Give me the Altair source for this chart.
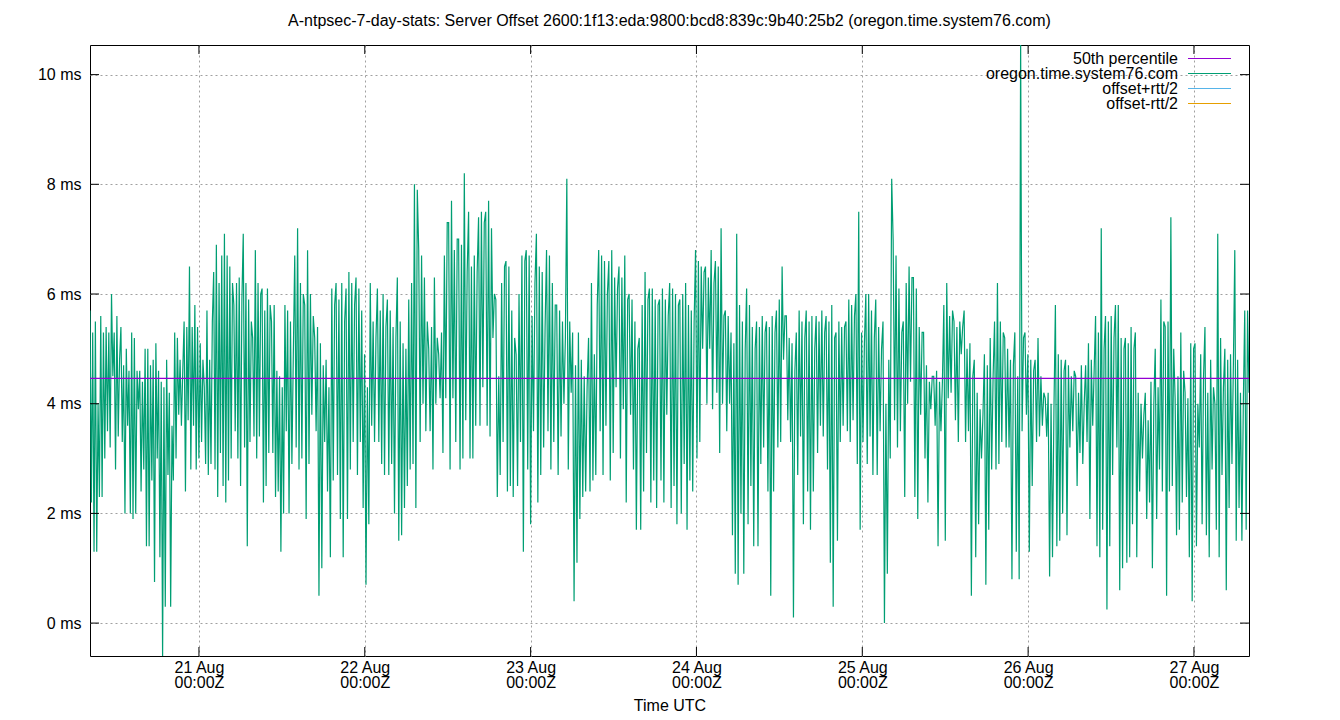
import altair as alt
import numpy as np
import pandas as pd

FONT = "Liberation Sans"
FS = 16

TITLE = "A-ntpsec-7-day-stats: Server Offset 2600:1f13:eda:9800:bcd8:839c:9b40:25b2 (oregon.time.system76.com)"
SERVER = "oregon.time.system76.com"

# segment boundaries (UTC) and offset readings in ms
SEG_BOUNDS = [
    "2024-08-20T08:14:00Z", "2024-08-21T12:50:00Z", "2024-08-22T17:30:00Z",
    "2024-08-23T22:26:00Z", "2024-08-25T01:57:00Z", "2024-08-26T06:53:00Z",
    "2024-08-27T07:58:00Z",
]

seg1 = [
    5.7, 2.2, 5.3, 1.3, 5.5, 1.3, 4.0, 2.3,
    5.6, 2.3, 5.3, 3.0, 5.4, 3.5, 5.3, 3.2,
    6.0, 4.5, 5.3, 2.8, 5.6, 3.4, 4.8,
    5.4, 3.3, 4.7, 2.0, 5.0, 3.6, 4.6, 2.0,
    5.3, 1.9, 5.2, 2.0, 4.6, 3.9, 4.6, 2.4,
    4.4, 2.8, 5.0, 1.4, 5.0, 1.4, 4.7, 2.6,
    4.8, 0.75, 5.1, 3.0, 4.6, 1.2, 4.4, -0.65,
    4.3, 0.3, 4.8, 2.7, 4.2, 0.3, 3.6, 2.6,
    5.3, 3.0, 5.2, 3.8, 4.8, 3.6, 4.6,
    5.5, 2.4, 5.4, 3.7, 6.5, 2.8, 5.4, 3.6,
    5.8, 2.8, 5.4, 3.0, 5.1, 3.3, 4.8,
    4.3, 2.9, 5.7, 2.7, 4.8, 2.9, 5.5,
    6.4, 2.8, 6.9, 2.3, 6.2, 3.1, 6.7, 2.5,
    7.1, 2.2, 6.7, 2.6, 6.5, 3.0, 6.2,
    5.8, 3.5, 6.2, 3.0, 6.3, 2.5, 5.9,
    7.1, 3.2, 6.2, 1.4, 5.9, 3.3, 5.5,
    5.2, 3.4, 6.8, 3.0, 6.2, 3.4, 6.0,
    6.1, 2.2, 5.7, 2.5, 6.1, 3.1, 5.8,
    5.5, 3.1, 5.8, 2.3, 4.6, 2.4, 4.5, 1.3,
    4.3, 2.0, 5.8, 3.5,
]

seg2 = [
    5.7, 2.0, 5.5, 2.9, 4.9,
    6.7, 3.2, 7.2, 2.8, 6.2, 3.0, 6.0,
    5.8, 1.9, 6.8, 2.9, 6.0, 3.8, 5.6,
    5.2, 3.5, 5.4, 0.5, 5.1, 1.0, 4.7, 3.3,
    4.8, 2.4, 4.3, 1.2, 6.1, 2.6, 5.8,
    6.2, 2.7, 5.9, 1.9, 6.2, 1.2, 5.5,
    6.1, 1.9, 6.4, 2.8, 6.2, 3.3, 5.8,
    6.3, 2.7, 6.1, 3.3, 5.7, 2.1, 4.9, 0.7,
    4.3, 1.8, 6.2, 3.6, 5.5, 3.3, 5.2,
    6.1, 3.3, 5.7, 2.9, 6.0, 2.7, 5.4,
    5.9, 2.7, 5.7, 2.9, 5.4, 2.0, 5.2,
    6.3, 1.5, 5.5, 1.6, 5.1, 2.1, 5.0, 2.5,
    5.9, 2.8, 6.2, 2.9, 8.0, 2.1, 7.9,
    6.8, 3.3, 6.7, 4.0, 6.3, 3.5, 5.5,
    5.0, 3.5, 5.4, 2.8, 6.3, 4.0, 5.2,
    4.9, 4.1, 5.3, 3.1, 6.7, 4.1, 7.3,
    7.3, 2.8, 7.7, 4.1, 6.8, 3.3, 7.0,
    7.0, 2.8, 6.9, 3.0, 8.2, 3.7, 6.4,
    7.5, 3.0, 6.5, 3.0, 6.7, 3.6, 6.4,
    7.4, 3.6, 7.5, 4.3, 7.3,
]

seg3 = [
    7.5, 3.6, 7.7, 3.4, 7.2, 5.2, 6.0,
    5.9, 2.3, 4.5, 2.7, 6.2, 3.3, 6.5,
    6.6, 2.4, 6.5, 2.5, 5.7, 2.3, 5.2,
    4.9, 2.5, 6.0, 3.3, 6.7, 1.3, 6.6,
    6.8, 2.8, 6.7, 1.8, 5.6, 3.5, 6.2,
    7.1, 2.2, 6.5, 2.7, 6.4, 3.2, 5.4,
    6.8, 3.5, 6.7, 2.8, 6.2, 3.3, 5.8,
    5.8, 2.7, 5.7, 3.4, 5.5, 4.0, 5.2,
    8.1, 2.8, 5.5, 4.2, 5.3, 0.4, 4.7, 1.1,
    5.3, 1.9, 4.8, 2.3, 4.5, 2.4, 4.3,
    5.2, 2.4, 6.2, 2.6, 4.9, 2.7, 5.8,
    6.8, 3.5, 6.7, 2.7, 6.6, 3.6, 6.0,
    6.6, 2.6, 6.8, 3.1, 6.3, 4.3, 6.1,
    6.5, 3.0, 6.3, 3.9, 6.7, 2.2, 5.9,
    6.0, 3.8, 5.9, 2.8, 5.5, 1.7, 5.0,
    5.2, 1.7, 5.8, 2.4, 6.4, 3.1, 5.9,
    6.1, 2.2, 6.1, 2.6, 5.9, 2.1, 5.8,
    5.9, 2.6, 6.1, 2.2, 5.9, 3.8, 5.6,
    6.2, 2.1, 6.1, 2.5, 6.0, 1.8, 5.8,
    5.9, 2.0, 6.0, 2.9,
]

seg4 = [
    6.2, 1.7, 5.8, 2.6, 5.7, 2.4, 5.5,
    6.8, 3.0, 6.6, 3.3, 6.5, 5.0, 6.4,
    6.5, 4.0, 6.3, 5.0, 6.8, 3.9, 6.2,
    6.6, 4.2, 6.5, 3.1, 7.2, 4.0, 5.6,
    5.7, 3.5, 5.6, 4.0, 5.3, 1.6, 5.1, 0.9,
    7.1, 0.7, 5.8, 2.0, 5.5, 0.9, 5.0,
    6.1, 1.8, 5.8, 2.5, 5.4, 1.4, 5.0,
    5.5, 1.4, 5.4, 2.9, 5.6, 3.2, 5.3,
    5.5, 2.4, 5.4, 0.5, 5.6, 2.4, 5.3,
    5.7, 3.2, 5.9, 3.3, 6.5, 4.8, 5.6,
    5.6, 3.7, 5.2, 3.3, 5.1, 0.1, 4.6,
    5.3, 2.7, 5.7, 3.4, 5.5, 1.8, 5.2,
    5.7, 2.4, 5.5, 1.7, 5.6, 2.4, 5.0,
    5.6, 3.1, 5.5, 3.6, 5.7, 3.4, 5.3,
    5.6, 2.8, 5.5, 1.1, 5.8, 0.3, 5.2,
    5.3, 1.5, 5.5, 3.3, 5.4, 3.6, 5.4,
    5.5, 3.5, 5.9, 3.3, 5.8, 3.7, 5.6,
    6.0, 2.9, 7.5, 1.7, 5.3, 3.3, 5.1,
    6.0, 2.9, 6.0, 3.4, 5.7, 2.7, 5.2,
]

seg5 = [
    5.9, 2.7, 5.4, 3.5, 5.0,
    5.5, 0.0, 4.0, 0.9, 4.8, 3.0, 8.1,
    7.0, 3.7, 6.7, 3.2, 6.1, 3.5, 5.3,
    5.5, 2.3, 6.2, 4.0, 6.5, 4.4, 6.3,
    6.3, 2.3, 6.1, 1.9, 5.4, 3.8, 5.3,
    5.3, 3.0, 4.7, 2.2, 4.4, 3.9, 4.5,
    4.5, 3.6, 4.6, 1.4, 4.4, 3.5, 4.4,
    5.8, 1.5, 6.2, 4.1, 5.6, 4.2, 5.7,
    5.5, 3.7, 5.4, 3.3, 5.5, 4.9, 5.4,
    5.7, 3.3, 5.0, 3.5, 5.1, 0.5, 4.5,
    4.8, 1.2, 4.2, 1.8, 3.9, 3.0, 3.8,
    4.9, 0.7, 4.7, 1.7, 5.2, 2.8, 4.5,
    5.5, 2.8, 6.2, 2.9, 5.5, 3.3, 5.3,
    5.2, 3.2, 5.0, 3.2, 4.8, 0.8, 4.7,
    5.3, 1.3, 4.5, 0.8, 10.6, 3.5, 5.2,
    5.3, 3.8, 4.9, 1.3, 4.8, 2.5, 4.6,
    4.8, 3.3, 5.2, 3.4, 4.5, 3.6, 4.2,
    4.1, 3.4, 4.2, 0.85, 4.0, 1.2, 3.9,
    5.8, 1.4, 4.9, 1.5, 4.8, 2.0, 4.6,
    4.8, 1.6, 4.7, 3.2, 4.5, 3.5, 4.6,
]

seg6 = [
    4.5, 2.5, 4.2, 3.1, 4.7, 2.9, 4.0,
    4.7, 3.3, 5.1, 1.9, 4.8, 3.6, 4.6,
    5.6, 1.4, 5.3, 1.2, 7.2, 1.7, 5.0,
    5.6, 0.25, 5.5, 1.4, 5.6, 2.7, 5.2,
    5.8, 3.2, 5.8, 0.6, 5.2, 1.0, 5.0,
    5.2, 1.1, 5.1, 1.2, 5.4, 1.8, 5.0,
    5.3, 1.2, 4.2, 2.4, 4.0, 3.0, 3.8,
    4.2, 1.9, 3.7, 2.2, 4.4, 1.0, 4.0,
    5.0, 1.9, 4.3, 2.8, 5.9, 2.4, 5.5,
    5.4, 0.5, 5.5, 2.4, 7.4, 2.5, 5.0,
    4.1, 1.6, 4.5, 1.7, 5.3, 2.2, 4.6,
    4.2, 2.3, 4.1, 1.2, 5.1, 0.4, 5.0,
    5.1, 1.4, 4.0, 3.2, 4.9, 1.8, 4.5,
    5.4, 1.6, 4.2, 1.2, 4.8, 2.8, 4.3,
    4.0, 1.7, 7.1, 1.2, 5.2, 2.7, 4.3,
    5.0, 0.6, 4.8, 2.1, 4.9, 2.9, 4.7,
    6.8, 1.5, 4.8, 2.1, 4.2, 1.5, 4.0,
    5.7, 1.7, 5.7, 4.2,
]

P50 = 4.46  # 50th percentile, ms

LEGEND_LABELS = ["50th percentile", SERVER, "offset+rtt/2", "offset-rtt/2"]
LEGEND_COLORS = ["#9400d3", "#009e73", "#56b4e9", "#e69f00"]

X_TICKS = ["2024-08-%02dT00:00:00Z" % d for d in range(21, 28)]
Y_TICKS = [0, 2, 4, 6, 8, 10]

# ---- build the table -------------------------------------------------------
bounds = pd.to_datetime(SEG_BOUNDS, utc=True)
rows = []
for i, seg in enumerate([seg1, seg2, seg3, seg4, seg5, seg6]):
    last = i == 5
    ts = pd.date_range(bounds[i], bounds[i + 1], periods=len(seg) + (0 if last else 1))
    ts = ts if last else ts[:-1]
    rows += list(zip(ts, seg))
df = pd.DataFrame(rows, columns=["time", "offset"])
df["time"] = df["time"].dt.strftime("%Y-%m-%dT%H:%M:%SZ")

W, H = 1159, 611
ms = lambda s: int(pd.Timestamp(s).value // 10**6)
x_scale = alt.Scale(type="utc", domain=[ms("2024-08-20T08:14:00Z"), ms("2024-08-27T07:58:00Z")])
y_scale = alt.Scale(domain=[-0.6, 10.54], nice=False, zero=False)

x_enc = alt.X(
    "time:T", scale=x_scale, title="Time UTC",
    axis=alt.Axis(
        values=[ms(t) for t in X_TICKS],
        labelExpr="[utcFormat(datum.value, '%d %b'), utcFormat(datum.value, '%H:%MZ')]",
        labelLineHeight=15, labelPadding=3, titlePadding=7,
    ),
)
y_enc = alt.Y(
    "offset:Q", scale=y_scale, title=None,
    axis=alt.Axis(values=Y_TICKS, labelExpr="datum.value + ' ms'", labelPadding=9),
)

line = alt.Chart(df).mark_line(color="#009e73", strokeWidth=1.2, clip=True).encode(x=x_enc, y=y_enc)

median = alt.Chart(pd.DataFrame({"p": [P50]})).mark_rule(color="#9400d3", strokeWidth=1.2).encode(
    y=alt.Y("p:Q", scale=y_scale)
)

xt = pd.DataFrame({"t": X_TICKS})
yt = pd.DataFrame({"v": Y_TICKS})
tick_x_bot = alt.Chart(xt).mark_rule(color="black").encode(
    x=alt.X("t:T", scale=x_scale), y=alt.value(H - 9), y2=alt.value(H)
)
tick_x_top = alt.Chart(xt).mark_rule(color="black").encode(
    x=alt.X("t:T", scale=x_scale), y=alt.value(0), y2=alt.value(9)
)
tick_y_left = alt.Chart(yt).mark_rule(color="black").encode(
    y=alt.Y("v:Q", scale=y_scale), x=alt.value(0), x2=alt.value(9)
)
tick_y_right = alt.Chart(yt).mark_rule(color="black").encode(
    y=alt.Y("v:Q", scale=y_scale), x=alt.value(W - 9), x2=alt.value(W)
)

data_layer = alt.layer(line, median, tick_x_bot, tick_x_top, tick_y_left, tick_y_right)

leg = pd.DataFrame({"label": LEGEND_LABELS})
leg_y = alt.Y("label:N", axis=None, scale=alt.Scale(type="point", domain=LEGEND_LABELS, range=[13.5, 58.5], padding=0))
leg_text = alt.Chart(leg).mark_text(align="right", baseline="middle", font=FONT, fontSize=FS, color="black").encode(
    y=leg_y, x=alt.value(1088), text="label:N"
)
leg_line = alt.Chart(leg).mark_rule(strokeWidth=1).encode(
    y=leg_y, x=alt.value(1098), x2=alt.value(1141),
    color=alt.Color("label:N", scale=alt.Scale(domain=LEGEND_LABELS, range=LEGEND_COLORS), legend=None),
)
legend_layer = alt.layer(leg_text, leg_line)

chart = (
    alt.layer(data_layer, legend_layer)
    .resolve_scale(y="independent")
    .properties(
        width=W, height=H,
        autosize=alt.AutoSizeParams(type="none"),
        padding={"left": 82, "top": 37, "right": 83, "bottom": 56},
        title=alt.TitleParams(
            TITLE, font=FONT, fontSize=FS, fontWeight="normal", color="black",
            anchor="middle", baseline="alphabetic", offset=3,
        ),
    )
    .configure_view(stroke="black", strokeWidth=1)
    .configure_axis(
        domain=False, ticks=False, grid=True, gridColor="#a0a0a0", gridDash=[2, 3], gridOpacity=1,
        labelFont=FONT, labelFontSize=FS, labelColor="black",
        titleFont=FONT, titleFontSize=FS, titleFontWeight="normal", titleColor="black",
    )
    .configure_axisX(labelAngle=0, labelBaseline="top")
    .configure_axisY(labelBaseline="middle")
)

chart.save("out.html", embed_options={"renderer": "svg", "actions": False})
